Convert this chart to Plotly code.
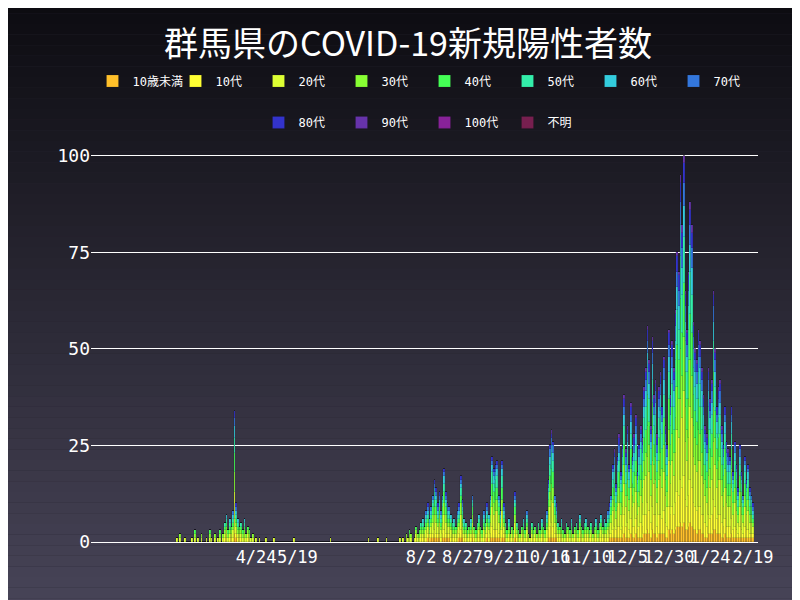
import plotly.graph_objects as go
import pandas as pd
import numpy as np

start = "2020-03-07"
totals = [
1,0,2,0,0,1,0, 0,0,1,0,3,0,1, 0,2,0,0,1,0,3, 1,0,2,0,1,3,0,
2,5,7,3,6,4,8, 34,10,6,4,5,3,6, 2,4,3,1,2,0,1, 0,1,0,0,0,1,0,
0,0,0,1,0,0,0, 0,0,0,0,0,0,0, 0,1,0,0,0,0,0, 0,0,0,0,0,0,0,
0,0,0,0,0,0,0, 0,0,1,0,0,0,0, 0,0,0,0,0,0,0, 0,0,0,0,0,0,0,
0,0,0,0,1,0,0, 0,0,0,1,0,0,0, 0,1,0,0,0,0,0, 0,0,1,0,1,0,2,
1,3,2,0,1,4,2,
3,5,6,4,8,10,6, 9,12,16,14,10,13,8, 12,19,13,10,9,7,5, 6,4,8,10,17,11,6,
5,3,4,6,12,4,3, 5,7,4,3,8,5,10, 7,12,22,19,20,21,12, 8,21,10,5,3,6,2,
4,3,13,5,3,2,4, 6,3,8,2,1,5,3, 4,2,5,3,6,4,3, 8,16,25,29,26,12,10,
5,4,6,3,2,5,4, 3,6,2,4,5,3,7, 4,3,5,6,4,3,5, 2,4,6,3,5,7,4,
6,5,8,10,12,20,24, 15,22,28,18,25,38,24, 30,20,36,22,28,33,18,
25,30,27,40,45,56,47, 30,53,38,42,28,40,44, 35,48,30,25,55,38,52,
45,60,75,70,95,82,100, 65,55,70,88,82,57,50, 47,55,52,45,38,30,28,
45,37,42,65,50,35,40, 42,30,25,35,26,24,22, 35,18,26,20,14,25,18,
12,22,16,20,14,12,10]

groups = ["10歳未満","10代","20代","30代","40代","50代","60代","70代","80代","90代","100代","不明"]
shares = [0.05,0.12,0.22,0.14,0.14,0.12,0.08,0.06,0.05,0.02,0.0,0.0]
colors = ["#FFC02A","#FFFF33","#DDFF33","#88FF33","#44FF55","#33EEAA","#33CCDD","#3377DD","#3333CC","#6633AA","#882299","#771F4F"]
tick_dates = ["2020-04-24","2020-05-19","2020-08-02","2020-08-27","2020-09-21","2020-10-16",
              "2020-11-10","2020-12-05","2020-12-30","2021-01-24","2021-02-19"]
tick_labels = ["4/24","5/19","8/2","8/27","9/21","10/16","11/10","12/5","12/30","1/24","2/19"]

dates = pd.date_range(start, periods=len(totals), freq="D")

counts = np.zeros((len(totals), len(groups)), dtype=int)
sh = np.array(shares)
for i, t in enumerate(totals):
    raw = t * sh
    base = np.floor(raw).astype(int)
    rem = t - base.sum()
    order = np.argsort(-(raw - base))
    for k in order[:rem]:
        base[k] += 1
    counts[i] = base

fig = go.Figure()
for j, g in enumerate(groups):
    fig.add_bar(x=dates, y=counts[:, j], name=g, marker_color=colors[j],
                marker_line=dict(color="rgba(20,20,30,0.5)", width=0.3),
                legend="legend" if j < 8 else "legend2")

shapes = []
n = 60
top = np.array([10, 10, 14]); bot = np.array([72, 68, 88])
for i in range(n):
    c = top + (bot - top) * i / (n - 1)
    shapes.append(dict(type="rect", xref="paper", yref="paper", x0=-0.5, x1=1.5,
                       y0=1.45 - (i + 1) * 1.62 / n, y1=1.45 - i * 1.62 / n,
                       fillcolor=f"rgb({int(c[0])},{int(c[1])},{int(c[2])})",
                       line_width=0, layer="below"))

font = "DejaVu Sans Mono, Noto Sans CJK JP"
leg = dict(orientation="h", xanchor="center", yanchor="middle",
           font=dict(size=12, color="white"), bgcolor="rgba(0,0,0,0)",
           entrywidth=38, traceorder="normal")
fig.update_layout(
    width=800, height=600, barmode="stack", bargap=0,
    shapes=shapes, paper_bgcolor="rgb(40,38,50)", plot_bgcolor="rgba(0,0,0,0)",
    font=dict(family=font, color="white"),
    title=dict(text="群馬県のCOVID-19新規陽性者数", x=0.5, y=0.94, xanchor="center", yanchor="middle",
               font=dict(size=34, family="Noto Sans CJK JP", color="white")),
    legend=dict(leg, x=0.5, y=1.17),
    legend2=dict(leg, x=0.5, y=1.065),
    margin=dict(l=83, r=50, t=140, b=66),
    xaxis=dict(range=["2020-01-15", "2021-02-22"], tickvals=tick_dates,
               ticktext=tick_labels, tickangle=0,
               tickfont=dict(size=17), showgrid=False, showline=True,
               linecolor="white", ticks=""),
    yaxis=dict(range=[0, 102], tickvals=[0, 25, 50, 75, 100], tickfont=dict(size=18),
               gridcolor="white", gridwidth=1, zeroline=False),
)
fig.write_html("out.html")
